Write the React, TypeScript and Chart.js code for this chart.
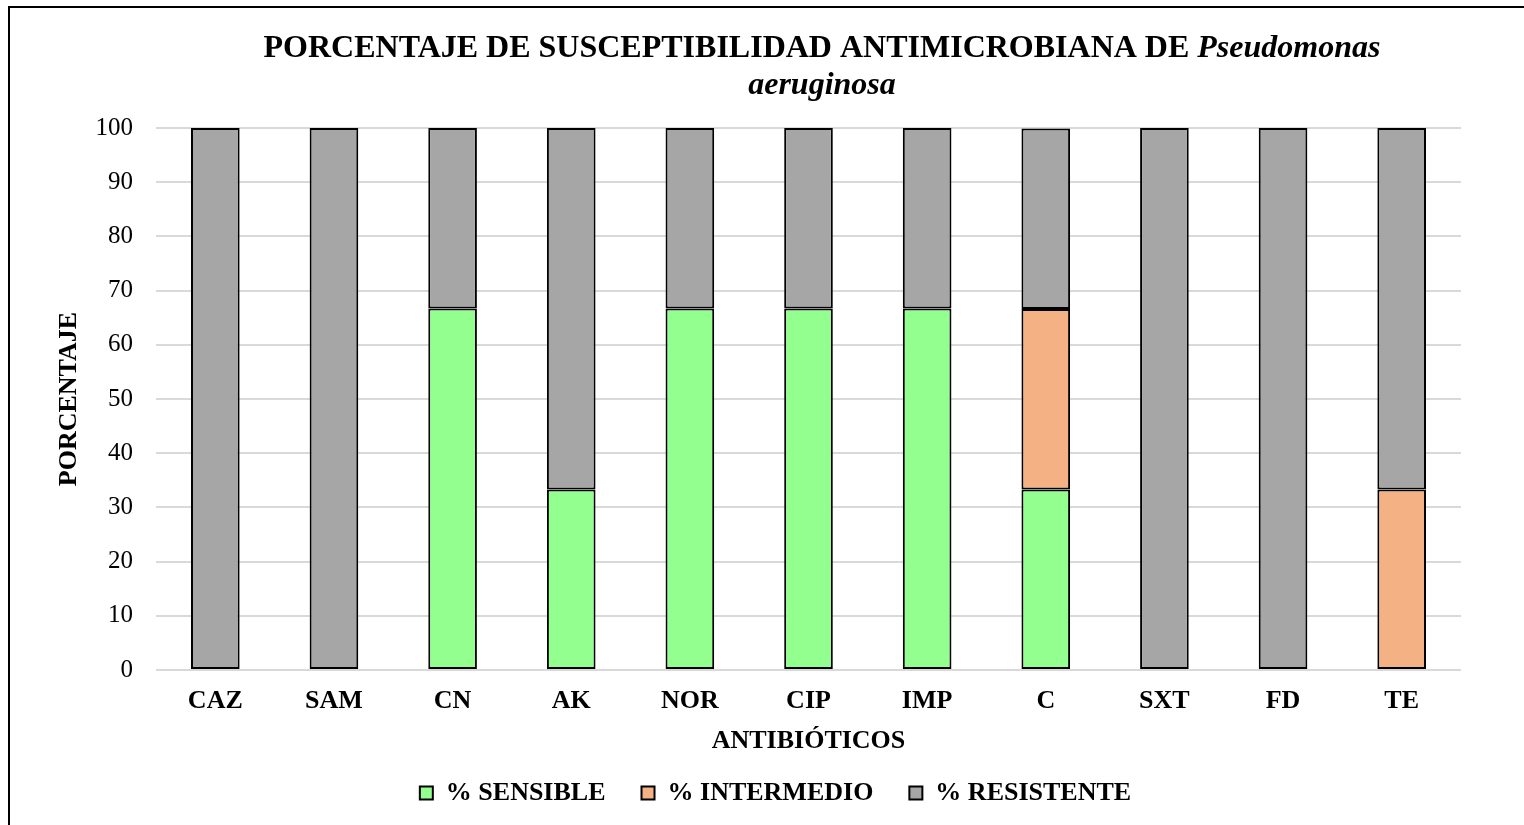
import React, { useEffect, useRef } from "react";
import { Chart, registerables } from "chart.js";

Chart.register(...registerables);

const categories = ["CAZ", "SAM", "CN", "AK", "NOR", "CIP", "IMP", "C", "SXT", "FD", "TE"];
const sensible = [null, null, 66.7, 33.3, 66.7, 66.7, 66.7, 33.3, null, null, null];
const intermedio = [null, null, null, null, null, null, null, 33.3, null, null, 33.3];
const resistente = [100, 100, 33.3, 66.7, 33.3, 33.3, 33.3, 33.3, 100, 100, 66.7];
const seriesNames = ["% SENSIBLE", "% INTERMEDIO", "% RESISTENTE"];
const seriesColors = ["#92FF8E", "#F4B183", "#A6A6A6"];
const titleMain = "PORCENTAJE DE SUSCEPTIBILIDAD ANTIMICROBIANA DE ";
const titleItalic1 = "Pseudomonas";
const titleItalic2 = "aeruginosa";
const yTitle = "PORCENTAJE";
const xTitle = "ANTIBIÓTICOS";

const FONT = '"Liberation Serif", "Times New Roman", serif';

const framePlugin = {
  id: "frameAndTitle",
  afterLayout(chart: any) {
    const lg = chart.legend;
    if (lg) {
      lg.left += 18;
      lg.right += 18;
    }
  },
  afterDraw(chart: any) {
    const ctx = chart.ctx;
    ctx.save();
    ctx.strokeStyle = "#000";
    ctx.lineWidth = 2;
    ctx.beginPath();
    ctx.moveTo(9, 825);
    ctx.lineTo(9, 7);
    ctx.lineTo(1524, 7);
    ctx.stroke();

    const cx = 822;
    ctx.fillStyle = "#000";
    ctx.textBaseline = "middle";
    ctx.textAlign = "left";
    const fMain = `bold 32px ${FONT}`;
    const fItal = `italic bold 32px ${FONT}`;
    ctx.font = fMain;
    const w1 = ctx.measureText(titleMain).width;
    ctx.font = fItal;
    const w2 = ctx.measureText(titleItalic1).width;
    const x0 = cx - (w1 + w2) / 2;
    ctx.font = fMain;
    ctx.fillText(titleMain, x0, 49);
    ctx.font = fItal;
    ctx.fillText(titleItalic1, x0 + w1, 49);
    ctx.textAlign = "center";
    ctx.fillText(titleItalic2, cx, 86);
    ctx.restore();
  },
};

export default function App() {
  const ref = useRef<HTMLCanvasElement | null>(null);
  useEffect(() => {
    document.body.style.margin = "0";
    document.body.style.overflow = "hidden";
    const chart = new Chart(ref.current as HTMLCanvasElement, {
      type: "bar",
      data: {
        labels: categories,
        datasets: [sensible, intermedio, resistente].map((d, i) => ({
          label: seriesNames[i],
          data: d as any,
          backgroundColor: seriesColors[i],
          borderColor: "#000",
          borderWidth: 2,
          borderSkipped: false,
          categoryPercentage: 1,
          barPercentage: 0.41,
        })),
      },
      options: {
        animation: false,
        responsive: false,
        maintainAspectRatio: false,
        layout: { padding: { top: 128, left: 54, right: 63, bottom: 9 } },
        plugins: {
          title: { display: false },
          tooltip: { enabled: false },
          legend: {
            position: "bottom",
            labels: {
              color: "#000",
              font: { family: FONT, size: 26, weight: "bold" },
              boxWidth: 13,
              boxHeight: 13,
              padding: 36,
            },
          },
        },
        scales: {
          x: {
            stacked: true,
            grid: { display: false },
            border: { display: false },
            ticks: { color: "#000", font: { family: FONT, size: 26, weight: "bold" }, padding: 8 },
            title: {
              display: true,
              text: xTitle,
              color: "#000",
              font: { family: FONT, size: 26, weight: "bold" },
              padding: { top: 0, bottom: -13 },
            },
            afterFit: (scale: any) => {
              scale.height = 74;
            },
          },
          y: {
            stacked: true,
            min: 0,
            max: 100,
            ticks: { stepSize: 10, color: "#000", font: { family: FONT, size: 25 }, padding: 23 },
            grid: { color: "#D9D9D9", lineWidth: 2, drawTicks: false },
            border: { display: false },
            title: {
              display: true,
              text: yTitle,
              color: "#000",
              font: { family: FONT, size: 26, weight: "bold" },
              padding: { top: 0, bottom: 10 },
            },
            afterFit: (scale: any) => {
              scale.width = 102;
            },
          },
        },
      },
      plugins: [framePlugin],
    });
    return () => chart.destroy();
  }, []);
  return (
    <div style={{ position: "fixed", left: 0, top: 0, width: 1524, height: 825, background: "#fff" }}>
      <canvas ref={ref} width={1524} height={825} style={{ width: 1524, height: 825, display: "block" }} />
    </div>
  );
}
